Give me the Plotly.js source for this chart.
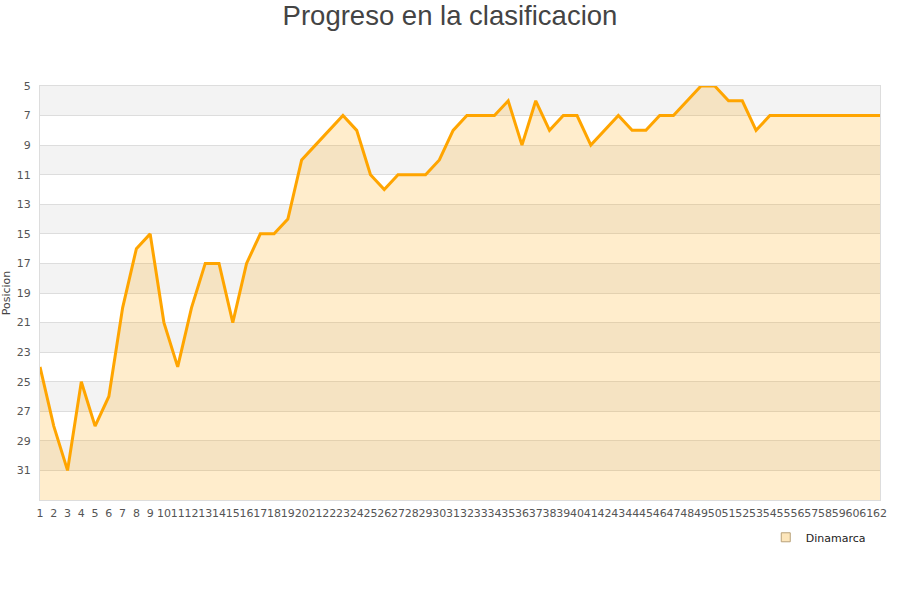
<!DOCTYPE html>
<html>
<head>
<meta charset="utf-8">
<script src="https://cdn.plot.ly/plotly-3.0.1.min.js"></script>
<style>html,body{margin:0;padding:0;background:#fff;}#chart{width:900px;height:600px;}</style>
</head>
<body>
<div id="chart"></div>
<script>
// ---- data ----
const chartTitle = "Progreso en la clasificacion";
const yAxisTitle = "Posicion";
const seriesName = "Dinamarca";
const jornadas = [];
for (let i = 1; i <= 62; i++) jornadas.push(i);
const posiciones = [
  24, 28, 31, 25, 28, 26, 20, 16, 15, 21,
  24, 20, 17, 17, 21, 17, 15, 15, 14, 10,
  9, 8, 7, 8, 11, 12, 11, 11, 11, 10,
  8, 7, 7, 7, 6, 9, 6, 8, 7, 7,
  9, 8, 7, 8, 8, 7, 7, 6, 5, 5,
  6, 6, 8, 7, 7, 7, 7, 7, 7, 7,
  7, 7
];
const yTickVals = [5, 7, 9, 11, 13, 15, 17, 19, 21, 23, 25, 27, 29, 31];
const yMin = 5, yMax = 33;

// ---- styles ----
const lineColor = "#ffa500";
const fillColor = "rgba(255,165,0,0.2)";
const bandColor = "#f3f3f3";
const gridColor = "#dddddd";
const tickFont = {family: "DejaVu Sans", size: 11, color: "#555"};

// alternating background bands
const shapes = [];
for (let v = yMin; v < yMax; v += 4) {
  shapes.push({type: "rect", xref: "paper", yref: "y", x0: 0, x1: 1, y0: v, y1: Math.min(v + 2, yMax),
    fillcolor: bandColor, line: {width: 0}, layer: "below"});
}

const baseline = {
  x: jornadas, y: jornadas.map(() => yMax), mode: "lines",
  line: {width: 0, color: "rgba(0,0,0,0)"}, showlegend: false, hoverinfo: "skip"
};
const main = {
  x: jornadas, y: posiciones, mode: "lines", name: seriesName,
  line: {color: lineColor, width: 3}, fill: "tonexty", fillcolor: fillColor,
  showlegend: false
};
const legendItem = {
  x: [null], y: [null], mode: "markers", name: seriesName,
  marker: {symbol: "square", size: 9, color: "#fde6bb", line: {color: "#b8a17a", width: 1}}
};

const layout = {
  width: 900, height: 600,
  margin: {l: 40, r: 20, t: 86, b: 100},
  paper_bgcolor: "#fff", plot_bgcolor: "#fff",
  title: {text: chartTitle, x: 0.5, xanchor: "center", y: 0.975, yanchor: "middle",
    font: {family: "Liberation Sans", size: 27.5, color: "#444"}},
  showlegend: true,
  legend: {x: 0.864, y: -0.055, xanchor: "left", yanchor: "top", xref: "paper", yref: "paper",
    font: {family: "DejaVu Sans", size: 11, color: "#222"}, bgcolor: "rgba(0,0,0,0)"},
  xaxis: {range: [1, 62], tickmode: "array", tickvals: jornadas, ticktext: jornadas.map(String),
    tickfont: tickFont, showgrid: false, zeroline: false, showline: true, mirror: true,
    linecolor: gridColor, linewidth: 1, ticks: "", tickangle: 0, ticklabelstandoff: 3, fixedrange: true},
  yaxis: {range: [yMax, yMin], tickmode: "array", tickvals: yTickVals, tickfont: tickFont,
    showgrid: true, gridcolor: gridColor, gridwidth: 1, zeroline: false, showline: true, mirror: true,
    linecolor: gridColor, linewidth: 1, ticks: "", ticklabelstandoff: 6,
    title: {text: yAxisTitle, font: {family: "DejaVu Sans", size: 11, color: "#444"}, standoff: 3}},
  shapes: shapes
};

Plotly.newPlot("chart", [baseline, main, legendItem], layout, {displayModeBar: false, staticPlot: true});
</script>
</body>
</html>
